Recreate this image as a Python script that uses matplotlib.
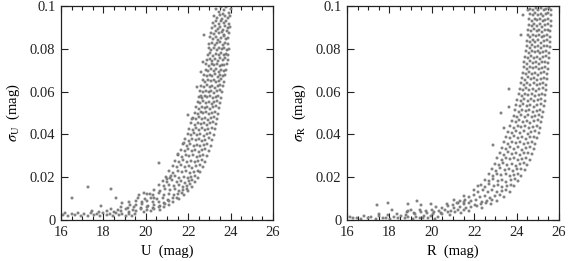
import matplotlib
matplotlib.use("Agg")
import matplotlib.pyplot as plt
from matplotlib.ticker import MultipleLocator, FixedLocator, FixedFormatter

# ---------------- data: U panel (magnitude, error) ----------------
u_mag = [
 23.30,23.44,23.57,23.69,23.80,23.91,24.02,23.63,
 23.22,23.36,23.50,23.61,23.74,23.86,23.98,
 23.17,23.30,23.43,23.55,23.67,23.79,23.93,
 23.12,23.26,23.39,23.51,23.62,23.75,23.88,23.97,
 23.07,23.20,23.33,23.46,23.58,23.70,23.83,23.93,
 23.04,23.16,23.29,23.42,23.55,23.67,23.79,23.90,
 23.00,23.13,23.25,23.38,23.50,23.62,23.74,23.87,
 22.96,23.09,23.22,23.35,23.47,23.58,23.70,23.83,23.93,
 22.93,23.05,23.18,23.30,23.43,23.55,23.67,23.79,23.90,
 22.89,23.02,23.14,23.27,23.39,23.51,23.63,23.75,23.86,
 22.86,22.98,23.11,23.23,23.36,23.48,23.60,23.71,23.82,
 22.82,22.95,23.07,23.20,23.32,23.44,23.56,23.68,23.78,
 22.75,22.88,23.01,23.14,23.27,23.39,23.51,23.62,23.73,
 22.68,22.81,22.94,23.07,23.20,23.33,23.45,23.57,23.68,
 22.62,22.75,22.88,23.01,23.14,23.27,23.40,23.52,23.65,
 22.57,22.70,22.83,22.96,23.09,23.22,23.35,23.48,23.61,
 22.51,22.64,22.77,22.90,23.03,23.16,23.29,23.42,23.56,
 22.45,22.58,22.71,22.84,22.97,23.10,23.24,23.37,23.52,
 22.39,22.52,22.65,22.78,22.91,23.05,23.18,23.32,23.47,
 22.32,22.46,22.59,22.72,22.86,22.99,23.13,23.27,23.42,
 22.24,22.38,22.52,22.66,22.80,22.94,23.08,23.22,23.37,
 22.15,22.30,22.45,22.59,22.73,22.87,23.01,23.16,23.32,
 22.06,22.21,22.36,22.51,22.66,22.80,22.95,23.10,23.27,
 21.97,22.12,22.28,22.43,22.58,22.73,22.88,23.04,23.21,
 21.87,22.03,22.19,22.35,22.50,22.65,22.81,22.97,23.14,
 21.76,21.93,22.10,22.26,22.42,22.57,22.73,22.89,23.06,
 21.65,21.83,22.00,22.17,22.33,22.49,22.65,22.81,22.97,
 21.53,21.71,21.89,22.06,22.23,22.40,22.56,22.72,22.88,
 21.40,21.58,21.77,21.95,22.12,22.30,22.47,22.63,22.79,
 21.26,21.45,21.65,21.84,22.02,22.20,22.38,22.54,22.69,
 21.10,21.30,21.51,21.71,21.90,22.09,22.27,22.44,22.58,
 20.94,21.15,21.37,21.58,21.78,21.97,22.15,22.32,22.46,
 20.80,21.02,21.24,21.46,21.66,21.86,22.05,22.20,22.32,
 20.64,20.87,21.10,21.33,21.55,21.75,21.93,22.08,22.17,
 20.40,20.65,20.90,21.14,21.37,21.58,21.77,21.92,21.98,
 20.05,20.33,20.60,20.86,21.10,21.33,21.53,21.70,21.78,
 19.65,19.95,20.25,20.54,20.82,21.07,21.30,21.48,21.57,
 19.55,19.82,20.08,20.34,20.60,20.85,21.08,21.30,
 19.25,19.55,19.84,20.12,20.40,20.66,20.90,21.08,
 18.85,19.15,19.45,19.75,20.05,20.35,20.62,20.86,
 18.35,18.70,19.05,19.40,19.75,20.08,20.38,20.65,
 17.45,17.80,18.15,18.50,18.85,19.20,19.55,19.90,20.25,
 16.20,16.50,16.80,17.10,17.40,17.70,18.00,18.30,18.60,18.90,19.20,19.50,
 16.10,16.35,16.65,16.95,17.25,17.55,17.85,18.15,18.45,18.75,19.05,19.35,
 16.50,17.27,18.36,18.60,20.60,22.76,22.60,22.70,19.70,19.90,20.20,20.40,
 21.20,21.00,21.50,21.80,22.00,22.20,22.40,22.60,17.90,18.90,19.20,
]
u_err = [
 0.0988,0.0972,0.0993,0.0979,0.0996,0.0968,0.0985,0.0962,
 0.0951,0.0944,0.0957,0.0940,0.0953,0.0946,0.0955,
 0.0921,0.0929,0.0917,0.0931,0.0920,0.0928,0.0915,
 0.0898,0.0905,0.0893,0.0902,0.0889,0.0907,0.0896,0.0903,
 0.0876,0.0869,0.0881,0.0872,0.0879,0.0866,0.0883,0.0873,
 0.0853,0.0846,0.0856,0.0843,0.0851,0.0858,0.0844,0.0849,
 0.0822,0.0829,0.0818,0.0826,0.0831,0.0819,0.0827,0.0821,
 0.0802,0.0796,0.0806,0.0794,0.0803,0.0798,0.0805,0.0793,0.0801,
 0.0772,0.0779,0.0768,0.0777,0.0771,0.0780,0.0769,0.0776,0.0773,
 0.0748,0.0754,0.0745,0.0752,0.0743,0.0757,0.0749,0.0755,0.0746,
 0.0727,0.0720,0.0729,0.0722,0.0731,0.0719,0.0726,0.0723,0.0730,
 0.0702,0.0695,0.0704,0.0697,0.0706,0.0693,0.0701,0.0698,0.0703,
 0.0677,0.0671,0.0679,0.0672,0.0681,0.0668,0.0676,0.0673,0.0678,
 0.0652,0.0646,0.0655,0.0648,0.0653,0.0644,0.0651,0.0657,0.0647,
 0.0628,0.0621,0.0630,0.0622,0.0627,0.0619,0.0626,0.0631,0.0624,
 0.0603,0.0596,0.0605,0.0598,0.0602,0.0594,0.0601,0.0606,0.0597,
 0.0577,0.0571,0.0580,0.0573,0.0578,0.0569,0.0576,0.0581,0.0572,
 0.0553,0.0546,0.0555,0.0548,0.0552,0.0544,0.0551,0.0556,0.0547,
 0.0527,0.0521,0.0530,0.0522,0.0528,0.0519,0.0526,0.0531,0.0523,
 0.0502,0.0496,0.0505,0.0498,0.0503,0.0494,0.0501,0.0506,0.0497,
 0.0477,0.0471,0.0480,0.0473,0.0478,0.0469,0.0476,0.0481,0.0472,
 0.0453,0.0446,0.0455,0.0448,0.0452,0.0444,0.0451,0.0456,0.0447,
 0.0427,0.0421,0.0430,0.0422,0.0428,0.0419,0.0426,0.0431,0.0423,
 0.0402,0.0396,0.0405,0.0398,0.0403,0.0394,0.0401,0.0406,0.0397,
 0.0377,0.0371,0.0380,0.0373,0.0378,0.0369,0.0376,0.0381,0.0372,
 0.0353,0.0346,0.0355,0.0348,0.0352,0.0344,0.0351,0.0356,0.0347,
 0.0327,0.0321,0.0330,0.0322,0.0328,0.0319,0.0326,0.0331,0.0323,
 0.0302,0.0296,0.0305,0.0298,0.0303,0.0294,0.0301,0.0306,0.0297,
 0.0277,0.0271,0.0280,0.0273,0.0278,0.0269,0.0276,0.0281,0.0272,
 0.0253,0.0246,0.0255,0.0248,0.0252,0.0244,0.0251,0.0256,0.0247,
 0.0227,0.0221,0.0230,0.0222,0.0228,0.0219,0.0226,0.0231,0.0223,
 0.0202,0.0196,0.0205,0.0198,0.0203,0.0194,0.0201,0.0206,0.0197,
 0.0183,0.0177,0.0185,0.0178,0.0182,0.0175,0.0181,0.0186,0.0176,
 0.0162,0.0157,0.0165,0.0158,0.0163,0.0155,0.0161,0.0166,0.0156,
 0.0142,0.0137,0.0145,0.0138,0.0143,0.0135,0.0141,0.0146,0.0136,
 0.0122,0.0117,0.0125,0.0118,0.0123,0.0115,0.0121,0.0126,0.0116,
 0.0103,0.0098,0.0105,0.0097,0.0102,0.0095,0.0101,0.0104,0.0096,
 0.0087,0.0083,0.0089,0.0082,0.0086,0.0081,0.0088,0.0084,
 0.0072,0.0068,0.0074,0.0067,0.0071,0.0066,0.0073,0.0069,
 0.0062,0.0058,0.0063,0.0057,0.0061,0.0056,0.0062,0.0059,
 0.0052,0.0048,0.0053,0.0047,0.0051,0.0046,0.0052,0.0049,
 0.0042,0.0038,0.0043,0.0039,0.0041,0.0037,0.0042,0.0038,0.0040,
 0.0031,0.0027,0.0033,0.0028,0.0032,0.0026,0.0031,0.0029,0.0033,0.0027,0.0030,0.0028,
 0.0022,0.0018,0.0024,0.0019,0.0021,0.0023,0.0018,0.0022,0.0020,0.0024,0.0019,0.0021,
 0.0102,0.0153,0.0144,0.0102,0.0265,0.0865,0.0690,0.0740,0.0115,0.0125,0.0120,0.0105,
 0.0205,0.0190,0.0310,0.0360,0.0490,0.0470,0.0620,0.0580,0.0065,0.0080,0.0085,
]

# ---------------- data: R panel (magnitude, error) ----------------
r_mag = [
 24.65,24.78,24.90,25.02,25.15,25.27,25.39,25.52,25.63,
 24.62,24.75,24.87,25.00,25.13,25.25,25.38,25.50,25.62,
 24.60,24.73,24.85,24.98,25.11,25.24,25.36,25.49,25.61,
 24.58,24.71,24.83,24.96,25.09,25.22,25.35,25.48,25.60,
 24.55,24.68,24.81,24.94,25.07,25.20,25.33,25.46,25.59,
 24.52,24.65,24.78,24.91,25.04,25.18,25.31,25.44,25.58,
 24.50,24.63,24.76,24.89,25.03,25.16,25.30,25.43,25.57,
 24.48,24.61,24.74,24.87,25.01,25.14,25.28,25.42,25.56,
 24.45,24.58,24.72,24.85,24.99,25.12,25.26,25.40,25.54,
 24.41,24.55,24.68,24.82,24.96,25.10,25.24,25.38,25.52,
 24.37,24.51,24.65,24.79,24.93,25.07,25.21,25.36,25.50,
 24.34,24.48,24.62,24.76,24.90,25.05,25.19,25.34,25.48,
 24.29,24.43,24.58,24.72,24.87,25.01,25.16,25.31,25.45,
 24.24,24.39,24.54,24.68,24.83,24.98,25.13,25.28,25.43,
 24.19,24.34,24.49,24.64,24.80,24.95,25.10,25.26,25.41,
 24.14,24.29,24.45,24.60,24.76,24.91,25.07,25.23,25.38,
 24.09,24.25,24.40,24.56,24.72,24.88,25.04,25.20,25.35,
 24.04,24.20,24.36,24.52,24.68,24.84,25.00,25.17,25.32,
 23.99,24.15,24.31,24.48,24.64,24.80,24.97,25.14,25.29,
 23.94,24.10,24.27,24.43,24.60,24.77,24.94,25.11,25.26,
 23.87,24.04,24.21,24.38,24.55,24.72,24.89,25.06,25.22,
 23.78,23.95,24.13,24.30,24.48,24.65,24.83,25.00,25.16,
 23.69,23.87,24.05,24.23,24.41,24.58,24.76,24.94,25.10,
 23.60,23.78,23.97,24.15,24.34,24.52,24.70,24.88,25.05,
 23.51,23.70,23.88,24.07,24.26,24.44,24.63,24.81,24.97,
 23.41,23.60,23.79,23.98,24.17,24.36,24.55,24.73,24.88,
 23.31,23.50,23.70,23.89,24.08,24.27,24.46,24.65,24.80,
 23.21,23.40,23.60,23.79,23.99,24.18,24.37,24.56,24.71,
 23.09,23.29,23.48,23.68,23.88,24.08,24.27,24.46,24.61,
 22.97,23.17,23.37,23.57,23.77,23.97,24.17,24.36,24.51,
 22.83,23.03,23.23,23.43,23.63,23.83,24.03,24.23,24.38,
 22.68,22.88,23.08,23.28,23.48,23.68,23.88,24.08,24.23,
 22.50,22.70,22.91,23.11,23.31,23.52,23.72,23.92,24.07,
 22.30,22.51,22.71,22.92,23.12,23.33,23.53,23.74,23.89,
 21.97,22.19,22.41,22.63,22.85,23.07,23.29,23.50,23.67,
 21.52,21.76,22.01,22.25,22.50,22.74,22.98,23.22,23.42,
 21.07,21.33,21.58,21.84,22.10,22.35,22.61,22.86,23.07,
 20.72,20.98,21.25,21.51,21.77,22.03,22.30,22.55,22.77,
 20.22,20.50,20.77,21.05,21.32,21.60,21.87,22.14,22.37,
 19.42,19.72,20.02,20.32,20.62,20.92,21.22,21.50,21.77,
 18.82,19.14,19.47,19.79,20.12,20.44,20.77,21.08,21.37,
 17.52,17.95,18.37,18.80,19.22,19.65,20.07,20.48,20.87,
 16.12,16.45,16.80,17.15,17.50,17.85,18.20,18.55,18.90,19.25,19.60,19.95,20.30,
 16.30,16.65,17.00,17.35,17.70,18.05,18.40,18.75,19.10,19.45,19.80,20.15,
 24.20,23.62,23.62,23.26,22.90,24.30,17.40,17.92,18.90,19.30,19.50,19.96,
 18.10,19.00,21.20,21.50,22.20,23.40,24.55,18.90,
]
r_err = [
 0.0988,0.0981,0.0991,0.0983,0.0989,0.0979,0.0986,0.0990,0.0982,
 0.0963,0.0956,0.0966,0.0958,0.0964,0.0954,0.0961,0.0965,0.0957,
 0.0938,0.0931,0.0941,0.0933,0.0939,0.0929,0.0936,0.0940,0.0932,
 0.0913,0.0906,0.0916,0.0908,0.0914,0.0904,0.0911,0.0915,0.0907,
 0.0888,0.0881,0.0891,0.0883,0.0889,0.0879,0.0886,0.0890,0.0882,
 0.0863,0.0856,0.0866,0.0858,0.0864,0.0854,0.0861,0.0865,0.0857,
 0.0838,0.0831,0.0841,0.0833,0.0839,0.0829,0.0836,0.0840,0.0832,
 0.0813,0.0806,0.0816,0.0808,0.0814,0.0804,0.0811,0.0815,0.0807,
 0.0788,0.0781,0.0791,0.0783,0.0789,0.0779,0.0786,0.0790,0.0782,
 0.0763,0.0756,0.0766,0.0758,0.0764,0.0754,0.0761,0.0765,0.0757,
 0.0738,0.0731,0.0741,0.0733,0.0739,0.0729,0.0736,0.0740,0.0732,
 0.0713,0.0706,0.0716,0.0708,0.0714,0.0704,0.0711,0.0715,0.0707,
 0.0688,0.0681,0.0691,0.0683,0.0689,0.0679,0.0686,0.0690,0.0682,
 0.0663,0.0656,0.0666,0.0658,0.0664,0.0654,0.0661,0.0665,0.0657,
 0.0638,0.0631,0.0641,0.0633,0.0639,0.0629,0.0636,0.0640,0.0632,
 0.0613,0.0606,0.0616,0.0608,0.0614,0.0604,0.0611,0.0615,0.0607,
 0.0588,0.0581,0.0591,0.0583,0.0589,0.0579,0.0586,0.0590,0.0582,
 0.0563,0.0556,0.0566,0.0558,0.0564,0.0554,0.0561,0.0565,0.0557,
 0.0538,0.0531,0.0541,0.0533,0.0539,0.0529,0.0536,0.0540,0.0532,
 0.0513,0.0506,0.0516,0.0508,0.0514,0.0504,0.0511,0.0515,0.0507,
 0.0488,0.0481,0.0491,0.0483,0.0489,0.0479,0.0486,0.0490,0.0482,
 0.0463,0.0456,0.0466,0.0458,0.0464,0.0454,0.0461,0.0465,0.0457,
 0.0438,0.0431,0.0441,0.0433,0.0439,0.0429,0.0436,0.0440,0.0432,
 0.0413,0.0406,0.0416,0.0408,0.0414,0.0404,0.0411,0.0415,0.0407,
 0.0388,0.0381,0.0391,0.0383,0.0389,0.0379,0.0386,0.0390,0.0382,
 0.0363,0.0356,0.0366,0.0358,0.0364,0.0354,0.0361,0.0365,0.0357,
 0.0338,0.0331,0.0341,0.0333,0.0339,0.0329,0.0336,0.0340,0.0332,
 0.0313,0.0306,0.0316,0.0308,0.0314,0.0304,0.0311,0.0315,0.0307,
 0.0288,0.0281,0.0291,0.0283,0.0289,0.0279,0.0286,0.0290,0.0282,
 0.0263,0.0256,0.0266,0.0258,0.0264,0.0254,0.0261,0.0265,0.0257,
 0.0238,0.0231,0.0241,0.0233,0.0239,0.0229,0.0236,0.0240,0.0232,
 0.0213,0.0206,0.0216,0.0208,0.0214,0.0204,0.0211,0.0215,0.0207,
 0.0188,0.0181,0.0191,0.0183,0.0189,0.0179,0.0186,0.0190,0.0182,
 0.0163,0.0156,0.0166,0.0158,0.0164,0.0154,0.0161,0.0165,0.0157,
 0.0138,0.0131,0.0141,0.0133,0.0139,0.0129,0.0136,0.0140,0.0132,
 0.0113,0.0106,0.0116,0.0108,0.0114,0.0104,0.0111,0.0115,0.0107,
 0.0092,0.0087,0.0094,0.0088,0.0093,0.0086,0.0091,0.0094,0.0088,
 0.0077,0.0072,0.0079,0.0073,0.0078,0.0071,0.0076,0.0079,0.0073,
 0.0062,0.0057,0.0064,0.0058,0.0063,0.0056,0.0061,0.0064,0.0058,
 0.0047,0.0042,0.0049,0.0043,0.0048,0.0041,0.0046,0.0049,0.0043,
 0.0037,0.0032,0.0039,0.0033,0.0038,0.0031,0.0036,0.0039,0.0033,
 0.0027,0.0022,0.0029,0.0023,0.0028,0.0021,0.0026,0.0029,0.0023,
 0.0016,0.0011,0.0019,0.0012,0.0017,0.0010,0.0015,0.0018,0.0012,0.0016,0.0011,0.0019,0.0013,
 0.0008,0.0006,0.0009,0.0007,0.0010,0.0006,0.0008,0.0009,0.0007,0.0010,0.0008,0.0006,
 0.0865,0.0614,0.0530,0.0498,0.0350,0.0960,0.0070,0.0081,0.0075,0.0089,0.0072,0.0075,
 0.0045,0.0048,0.0080,0.0085,0.0160,0.0430,0.0980,0.0044,
]

y_ticks = [0, 0.02, 0.04, 0.06, 0.08, 0.1]
y_tick_labels = ["0", "0.02", "0.04", "0.06", "0.08", "0.1"]
x_ticks = [16, 18, 20, 22, 24, 26]
x_tick_labels = ["16", "18", "20", "22", "24", "26"]

panels = [
    (u_mag, u_err, "U  (mag)", r"$\sigma_{\rm U}$  (mag)"),
    (r_mag, r_err, "R  (mag)", r"$\sigma_{\rm R}$  (mag)"),
]

W, H = 568, 261
fig = plt.figure(figsize=(W / 100, H / 100), dpi=100)
plt.rcParams["font.family"] = ["Liberation Serif", "DejaVu Serif"]
plt.rcParams["mathtext.fontset"] = "stix"

lefts = [61, 347]
for (mags, errs, xl, yl), lx in zip(panels, lefts):
    ax = fig.add_axes([lx / W, (H - 220) / H, 212 / W, 214 / H])
    ax.scatter(mags, errs, s=4.0, marker="s", facecolors="#b4b4b4",
               edgecolors="#404040", linewidths=0.35, zorder=2)
    ax.set_xlim(16, 26)
    ax.set_ylim(0, 0.1)
    ax.xaxis.set_major_locator(FixedLocator(x_ticks))
    ax.xaxis.set_major_formatter(FixedFormatter(x_tick_labels))
    ax.xaxis.set_minor_locator(MultipleLocator(0.5))
    ax.yaxis.set_major_locator(FixedLocator(y_ticks))
    ax.yaxis.set_major_formatter(FixedFormatter(y_tick_labels))
    ax.tick_params(which="both", direction="in", top=True, right=True,
                   labelsize=10.5, width=0.8, colors="#222222")
    ax.tick_params(which="major", length=5, pad=4)
    ax.tick_params(which="minor", length=2.8)
    for sp in ax.spines.values():
        sp.set_linewidth(0.9)
        sp.set_color("#222222")
    ax.set_xlabel(xl, fontsize=10.5, labelpad=4)
    ax.set_ylabel(yl, fontsize=10.5, labelpad=6)

fig.savefig("out.png", dpi=100)
